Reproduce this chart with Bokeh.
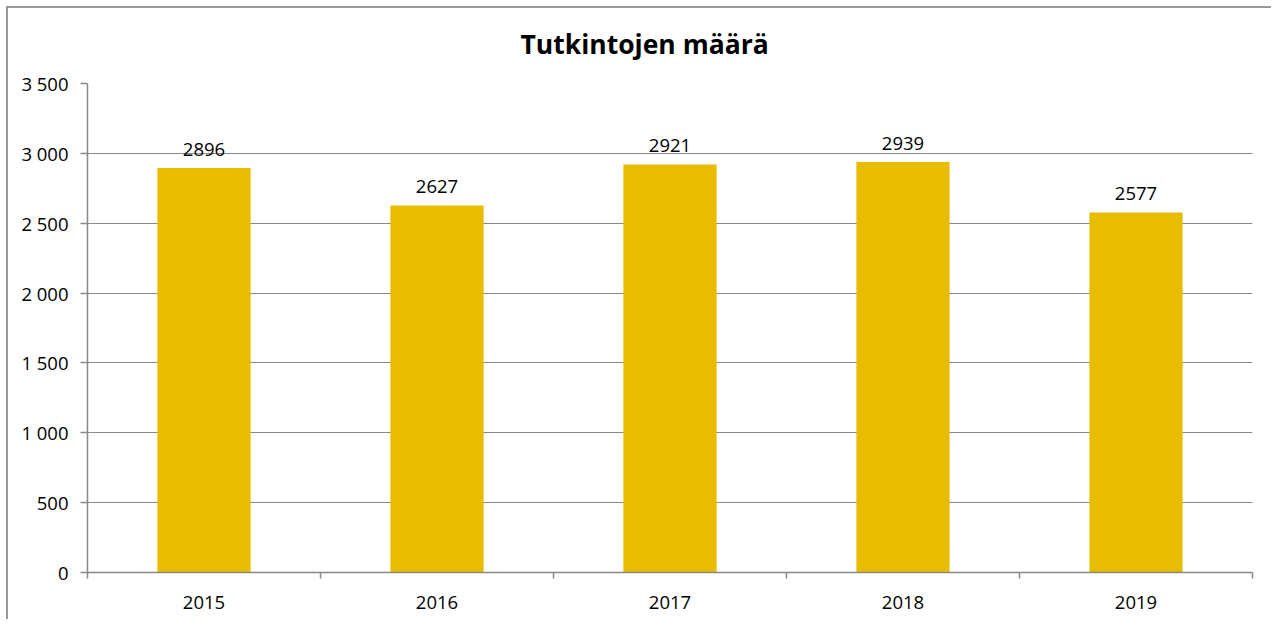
from bokeh.plotting import figure
from bokeh.models import ColumnDataSource, FixedTicker, LabelSet, Range1d
from bokeh.core.properties import value
from bokeh.embed import file_html
from bokeh.resources import INLINE

years = ["2015", "2016", "2017", "2018", "2019"]
counts = [2896, 2627, 2921, 2939, 2577]
y_ticks = [0, 500, 1000, 1500, 2000, 2500, 3000, 3500]
y_tick_labels = ["0", "500", "1 000", "1 500", "2 000", "2 500", "3 000", "3 500"]
title_text = "Tutkintojen määrä"

FONT = "Open Sans"
GRAY = "#898989"
BAR = "#E8BC00"
FRAME = "#9a9a9a"

centers = [i + 0.5 for i in range(len(years))]
src = ColumnDataSource(dict(x=centers, y=counts, lbl=[str(c) for c in counts]))

p = figure(width=1271, height=619, output_backend="svg", toolbar_location=None,
           x_range=Range1d(0, len(years)), y_range=Range1d(0, 3500),
           min_border_left=87, min_border_right=19, min_border_bottom=47, min_border_top=83)
p.styles = {
    "background": (f"linear-gradient({FRAME},{FRAME}) 6px 6px / 2px 100% no-repeat, "
                   f"linear-gradient({FRAME},{FRAME}) 6px 6px / 100% 2px no-repeat, white"),
}

p.title.text = title_text
p.title.text_font = FONT
p.title.text_font_size = "26.5px"
p.title.text_font_style = "bold"
p.title.align = "left"
p.title.offset = 433
p.title.standoff = 44
p.title.text_color = "#000000"

p.vbar(x="x", top="y", width=0.4, source=src, color=BAR, line_color=None)

labels = LabelSet(x="x", y="y", text="lbl", source=src, text_align="center",
                  text_baseline="bottom", y_offset=12, text_font=value(FONT),
                  text_font_size=value("18.5px"), text_color="#000000")
p.add_layout(labels)

p.outline_line_color = None
p.xgrid.grid_line_color = None
p.ygrid.grid_line_color = GRAY
p.ygrid.grid_line_width = 1
p.ygrid.ticker = FixedTicker(ticks=y_ticks)

p.yaxis.ticker = FixedTicker(ticks=y_ticks)
p.yaxis.major_label_overrides = {t: l for t, l in zip(y_ticks, y_tick_labels)}
p.yaxis.major_tick_in = 0
p.yaxis.major_tick_out = 7
p.yaxis.major_label_standoff = 12

p.xaxis.ticker = FixedTicker(ticks=centers, minor_ticks=list(range(len(years) + 1)))
p.xaxis.major_label_overrides = {c: y for c, y in zip(centers, years)}
p.xaxis.major_tick_in = 0
p.xaxis.major_tick_out = 0
p.xaxis.minor_tick_in = 0
p.xaxis.minor_tick_out = 6
p.xaxis.major_label_standoff = 17

for ax in (p.xaxis, p.yaxis):
    ax.axis_line_color = GRAY
    ax.axis_line_width = 1.5
    ax.major_tick_line_width = 1.5
    ax.minor_tick_line_width = 1.5
    ax.major_label_text_font = FONT
    ax.major_label_text_font_size = "18.5px"
    ax.major_label_text_color = "#000000"
p.yaxis.major_tick_line_color = GRAY
p.yaxis.minor_tick_line_color = None
p.xaxis.major_tick_line_color = None
p.xaxis.minor_tick_line_color = GRAY

p.background_fill_color = "white"
p.border_fill_color = None

open("out.html", "w").write(file_html(p, INLINE))
